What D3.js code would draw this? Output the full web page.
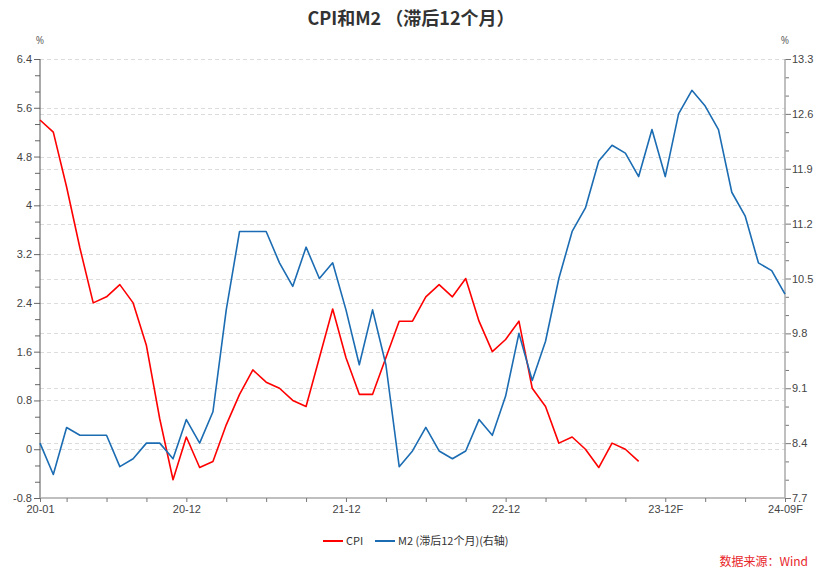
<!DOCTYPE html>
<html>
<head>
<meta charset="utf-8">
<script src="https://cdn.jsdelivr.net/npm/d3@7"></script>
<style>
  html, body { margin: 0; padding: 0; background: #fff; }
  svg { display: block; font-family: "Noto Sans", "Noto Sans CJK SC", sans-serif; }
</style>
</head>
<body>
<svg id="chart" width="832" height="578"></svg>
<script>
// ---- data ----
const categories = [
  "20-01","20-02","20-03","20-04","20-05","20-06","20-07","20-08","20-09","20-10","20-11","20-12",
  "21-01","21-02","21-03","21-04","21-05","21-06","21-07","21-08","21-09","21-10","21-11","21-12",
  "22-01","22-02","22-03","22-04","22-05","22-06","22-07","22-08","22-09","22-10","22-11","22-12",
  "23-01","23-02","23-03","23-04","23-05","23-06","23-07","23-08","23-09","23-10","23-11F","23-12F",
  "24-01F","24-02F","24-03F","24-04F","24-05F","24-06F","24-07F","24-08F","24-09F"
];
const cpi = [
  5.4, 5.2, 4.3, 3.3, 2.4, 2.5, 2.7, 2.4, 1.7, 0.5, -0.5, 0.2,
  -0.3, -0.2, 0.4, 0.9, 1.3, 1.1, 1.0, 0.8, 0.7, 1.5, 2.3, 1.5,
  0.9, 0.9, 1.5, 2.1, 2.1, 2.5, 2.7, 2.5, 2.8, 2.1, 1.6, 1.8,
  2.1, 1.0, 0.7, 0.1, 0.2, 0.0, -0.3, 0.1, 0.0, -0.2
];
const m2Lag12 = [
  8.4, 8.0, 8.6, 8.5, 8.5, 8.5, 8.1, 8.2, 8.4, 8.4, 8.2, 8.7,
  8.4, 8.8, 10.1, 11.1, 11.1, 11.1, 10.7, 10.4, 10.9, 10.5, 10.7, 10.1,
  9.4, 10.1, 9.4, 8.1, 8.3, 8.6, 8.3, 8.2, 8.3, 8.7, 8.5, 9.0,
  9.8, 9.2, 9.7, 10.5, 11.1, 11.4, 12.0, 12.2, 12.1, 11.8, 12.4, 11.8,
  12.6, 12.9, 12.7, 12.4, 11.6, 11.3, 10.7, 10.6, 10.3
];
const leftTicks = [-0.8, 0, 0.8, 1.6, 2.4, 3.2, 4, 4.8, 5.6, 6.4];
const rightTicks = [7.7, 8.4, 9.1, 9.8, 10.5, 11.2, 11.9, 12.6, 13.3];
const xLabelCats = ["20-01", "20-12", "21-12", "22-12", "23-12F", "24-09F"];
const xTickCats = ["20-01","20-03","20-06","20-09","20-12","21-03","21-06","21-09","21-12",
  "22-03","22-06","22-09","22-12","23-03","23-06","23-09","23-12F","24-03F","24-06F","24-09F"];
const titleText = "CPI和M2 （滞后12个月）";
const legendNames = ["CPI", "M2 (滞后12个月)(右轴)"];
const sourceText = "数据来源：Wind";

// ---- layout ----
const L = 40, R = 785, T = 59, B = 498;
const red = "#ff0000", blue = "#1b6cb2";
const svg = d3.select("#chart");

const x = d3.scalePoint().domain(categories).range([L, R]);
const yL = d3.scaleLinear().domain([-0.8, 6.4]).range([B, T]);
const yR = d3.scaleLinear().domain([7.7, 13.3]).range([B, T]);

// minor ticks (thirds between majors)
function minors(ticks) {
  const out = [];
  for (let i = 0; i < ticks.length - 1; i++) {
    const step = (ticks[i + 1] - ticks[i]) / 3;
    out.push(ticks[i] + step, ticks[i] + 2 * step);
  }
  return out;
}

// grid lines
const grid = svg.append("g");
grid.selectAll("line.gl").data(leftTicks.slice(1)).join("line")
  .attr("x1", L).attr("x2", R)
  .attr("y1", d => Math.round(yL(d)) + 0.5).attr("y2", d => Math.round(yL(d)) + 0.5)
  .attr("stroke", "#dcdcdc").attr("stroke-dasharray", "4,3");
grid.selectAll("line.gr").data(rightTicks.slice(1)).join("line")
  .attr("x1", L).attr("x2", R)
  .attr("y1", d => Math.round(yR(d)) + 0.5).attr("y2", d => Math.round(yR(d)) + 0.5)
  .attr("stroke", "#dcdcdc").attr("stroke-dasharray", "4,3");

const fmt = d => String(+d.toFixed(1));

// left axis
const gL = svg.append("g").attr("transform", `translate(${L},0)`);
gL.call(d3.axisLeft(yL).tickValues(minors(leftTicks)).tickSize(5).tickFormat(""))
  .call(g => g.select(".domain").remove());
gL.append("g").call(d3.axisLeft(yL).tickValues(leftTicks).tickSize(6).tickFormat(fmt).tickPadding(2))
  .call(g => g.select(".domain").remove());
gL.selectAll("line").attr("stroke", "#666");
gL.selectAll("text").attr("fill", "#444").style("font-size", "11px");
gL.append("line").attr("x1", 0).attr("x2", 0).attr("y1", T).attr("y2", B).attr("stroke", "#555");

// right axis
const gR = svg.append("g").attr("transform", `translate(${R},0)`);
gR.call(d3.axisRight(yR).tickValues(minors(rightTicks)).tickSize(4).tickFormat(""))
  .call(g => g.select(".domain").remove());
gR.append("g").call(d3.axisRight(yR).tickValues(rightTicks).tickSize(6).tickFormat(fmt).tickPadding(1))
  .call(g => g.select(".domain").remove());
gR.selectAll("line").attr("stroke", "#777");
gR.selectAll("text").attr("fill", "#444").style("font-size", "11px");
gR.append("line").attr("x1", 0).attr("x2", 0).attr("y1", T).attr("y2", B)
  .attr("stroke", "#aaa").attr("stroke-width", 1.5);

// x axis
const gX = svg.append("g").attr("transform", `translate(0,${B})`);
gX.call(d3.axisBottom(x).tickValues(xTickCats).tickSize(4)
  .tickFormat(d => xLabelCats.includes(d) ? d : "").tickPadding(3));
gX.select(".domain").attr("stroke", "#aaa").attr("stroke-width", 1.5).attr("d", `M${L},0H${R}`);
gX.selectAll("line").attr("stroke", "#777");
gX.selectAll("text").attr("fill", "#444").style("font-size", "11px");

// unit labels
svg.append("text").attr("x", L).attr("y", 44).attr("text-anchor", "middle")
  .attr("fill", "#666").style("font-size", "10px").text("%");
svg.append("text").attr("x", R).attr("y", 44).attr("text-anchor", "middle")
  .attr("fill", "#666").style("font-size", "10px").text("%");

// lines
svg.append("path").datum(cpi)
  .attr("fill", "none").attr("stroke", red).attr("stroke-width", 1.6)
  .attr("stroke-linejoin", "round")
  .attr("d", d3.line().x((d, i) => x(categories[i])).y(d => yL(d)));
svg.append("path").datum(m2Lag12)
  .attr("fill", "none").attr("stroke", blue).attr("stroke-width", 1.6)
  .attr("stroke-linejoin", "round")
  .attr("d", d3.line().x((d, i) => x(categories[i])).y(d => yR(d)));

// title
svg.append("text").attr("x", 411).attr("y", 25).attr("text-anchor", "middle")
  .attr("fill", "#333").style("font-size", "18px").style("font-weight", "bold")
  .style("font-family", "'Noto Sans CJK SC', sans-serif").text(titleText);

// legend
const lg = svg.append("g").style("font-family", "'Noto Sans CJK SC', sans-serif").style("font-size", "11px");
const legendX = [323, 375];
const legendColors = [red, blue];
legendNames.forEach((n, i) => {
  lg.append("line").attr("x1", legendX[i]).attr("x2", legendX[i] + 20)
    .attr("y1", 541).attr("y2", 541).attr("stroke", legendColors[i]).attr("stroke-width", 2);
  lg.append("text").attr("x", legendX[i] + 23).attr("y", 545).attr("fill", "#333").text(n);
});

// source
svg.append("text").attr("x", 808).attr("y", 566).attr("text-anchor", "end")
  .attr("fill", "#e8262a").style("font-size", "12px")
  .style("font-family", "'Noto Sans CJK SC', sans-serif").text(sourceText);
</script>
</body>
</html>
